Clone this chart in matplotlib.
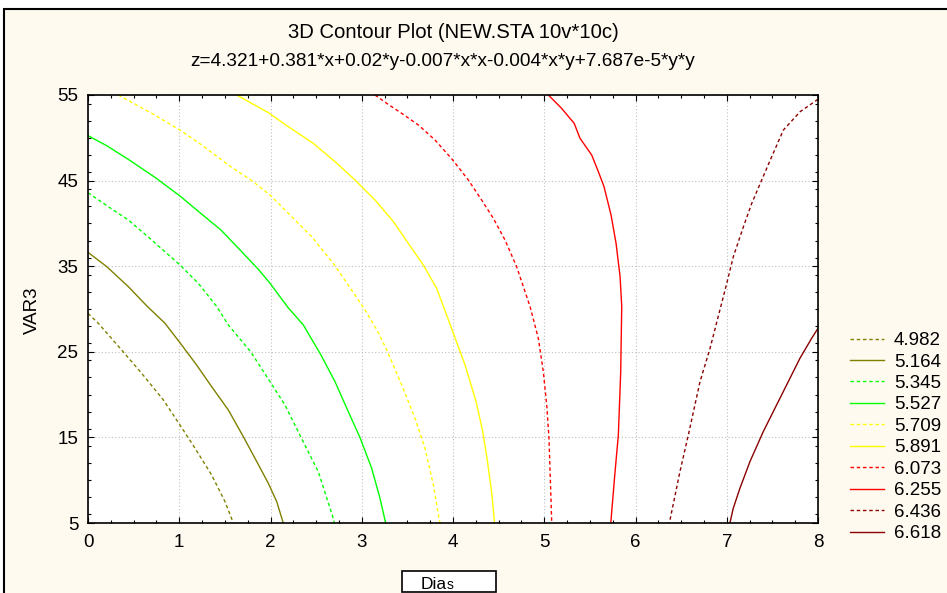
import matplotlib
matplotlib.use("Agg")
import matplotlib.pyplot as plt
from matplotlib.patches import Rectangle
from matplotlib.ticker import MultipleLocator

plt.rcParams['font.family'] = ['Liberation Sans', 'DejaVu Sans']

title1 = "3D Contour Plot (NEW.STA 10v*10c)"
title2 = "z=4.321+0.381*x+0.02*y-0.007*x*x-0.004*x*y+7.687e-5*y*y"
x_label = "Dias"
y_label = "VAR3"
levels = ["4.982", "5.164", "5.345", "5.527", "5.709", "5.891", "6.073", "6.255", "6.436", "6.618"]
x_ticks = [0, 1, 2, 3, 4, 5, 6, 7, 8]
y_ticks = [5, 15, 25, 35, 45, 55]

# contour 4.982
c4982_x = [0, 0.113, 0.369, 0.588, 0.826, 1.008, 1.173, 1.355, 1.501, 1.593]
c4982_y = [29.49, 28.33, 25.21, 22.49, 19.37, 16.45, 13.73, 10.61, 7.5, 5.0]
# contour 5.164
c5164_x = [0, 0.205, 0.442, 0.65, 0.844, 1.026, 1.19, 1.355, 1.538, 1.702, 1.83, 1.976, 2.068, 2.14]
c5164_y = [36.62, 34.95, 32.61, 30.3, 28.33, 25.8, 23.46, 20.93, 18.2, 15.09, 12.56, 9.64, 7.5, 5.0]
# contour 5.345
c5345_x = [0, 0.223, 0.442, 0.698, 1.008, 1.209, 1.41, 1.538, 1.783, 1.995, 2.159, 2.34, 2.524, 2.689, 2.7]
c5345_y = [43.59, 41.95, 40.4, 38.06, 35.14, 33.0, 30.3, 28.13, 25.0, 21.51, 18.78, 14.88, 10.99, 5.5, 5.0]
# contour 5.527
c5527_x = [0, 0.205, 0.442, 0.734, 1.008, 1.227, 1.457, 1.666, 1.867, 1.995, 2.19, 2.36, 2.553, 2.707, 2.853, 2.98, 3.109, 3.2, 3.262]
c5527_y = [50.25, 49.08, 47.48, 45.38, 43.2, 41.25, 39.23, 36.9, 34.63, 33.0, 30.2, 28.13, 24.63, 21.51, 18.0, 15.0, 11.39, 7.88, 5.0]
# contour 5.709
c5709_x = [0.332, 0.698, 1.008, 1.246, 1.538, 1.794, 1.995, 2.232, 2.451, 2.688, 2.889, 3.035, 3.164, 3.274, 3.438, 3.584, 3.693, 3.785, 3.85, 3.858]
c5709_y = [55.0, 52.86, 50.91, 49.16, 46.82, 45.0, 43.32, 40.79, 38.45, 35.33, 32.22, 29.9, 27.6, 25.21, 21.12, 17.22, 13.73, 9.44, 5.35, 5.0]
# contour 5.891
c5891_x = [1.629, 1.976, 2.195, 2.469, 2.707, 2.926, 3.146, 3.347, 3.51, 3.675, 3.821, 3.93, 4.132, 4.253, 4.326, 4.378, 4.425, 4.455]
c5891_y = [55.0, 52.94, 51.3, 49.35, 47.21, 45.07, 42.73, 40.2, 37.67, 35.14, 32.41, 29.3, 23.46, 19.18, 15.67, 12.17, 8.47, 5.0]
# contour 6.073
c6073_x = [3.145, 3.273, 3.437, 3.62, 3.803, 3.99, 4.168, 4.314, 4.442, 4.57, 4.697, 4.844, 4.935, 4.99, 5.027, 5.052, 5.07, 5.082]
c6073_y = [55.0, 54.03, 52.86, 51.5, 49.74, 47.5, 45.07, 42.73, 40.59, 38.06, 34.95, 30.3, 26.57, 22.68, 18.78, 14.88, 9.04, 5.0]
# contour 6.255
c6255_x = [5.045, 5.19, 5.328, 5.392, 5.52, 5.593, 5.655, 5.732, 5.787, 5.831, 5.849, 5.838, 5.812, 5.776, 5.729]
c6255_y = [55.0, 53.44, 51.69, 49.94, 47.99, 46.04, 44.29, 40.98, 37.67, 33.78, 30.3, 22.68, 15.28, 11.0, 5.0]
# contour 6.436
c6436_x = [8.0, 7.804, 7.621, 7.493, 7.383, 7.274, 7.183, 7.072, 7.0, 6.935, 6.817, 6.707, 6.579, 6.487, 6.378, 6.365]
c6436_y = [54.5, 53.05, 50.91, 47.8, 45.07, 42.34, 39.62, 36.11, 33.0, 30.3, 25.41, 21.51, 15.28, 11.0, 5.35, 5.0]
# contour 6.618
c6618_x = [8.0, 7.93, 7.802, 7.674, 7.528, 7.4, 7.254, 7.144, 7.071, 7.035]
c6618_y = [27.74, 26.57, 24.24, 21.51, 18.4, 15.67, 12.17, 9.04, 6.71, 5.0]

curves_x = [c4982_x, c5164_x, c5345_x, c5527_x, c5709_x, c5891_x, c6073_x, c6255_x, c6436_x, c6618_x]
curves_y = [c4982_y, c5164_y, c5345_y, c5527_y, c5709_y, c5891_y, c6073_y, c6255_y, c6436_y, c6618_y]
colors = ["#808000", "#808000", "#00FF00", "#00FF00", "#FFFF00", "#FFFF00",
          "#FF0000", "#FF0000", "#8B0000", "#8B0000"]
dashed = (0, (2.5, 2.0))
styles = [dashed, "-", dashed, "-", dashed, "-", dashed, "-", dashed, "-"]

W, H = 947, 593
fig = plt.figure(figsize=(W / 100, H / 100), dpi=100)
fig.patch.set_facecolor("white")
cream = "#FFFAF0"
fig.add_artist(Rectangle((4 / W, -0.1), 1.2, 1 - 9 / H + 0.1, transform=fig.transFigure,
                         facecolor=cream, edgecolor="black", lw=1.5, zorder=-10))

ax = fig.add_axes([88 / W, 1 - 523 / H, (818 - 88) / W, (523 - 95) / H])
ax.set_facecolor("white")

for xs, ys, col, ls, lab in zip(curves_x, curves_y, colors, styles, levels):
    ax.plot(xs, ys, color=col, linestyle=ls, lw=1.0, label=lab)

ax.set_xlim(0, 8)
ax.set_ylim(5, 55)
ax.set_xticks(x_ticks)
ax.set_yticks(y_ticks)
ax.xaxis.set_minor_locator(MultipleLocator(0.25))
ax.yaxis.set_minor_locator(MultipleLocator(2))
ax.tick_params(which="both", direction="in", top=True, right=True, labelsize=13.5, width=0.8)
ax.tick_params(which="major", length=4, pad=7)
ax.tick_params(axis="x", which="major", pad=8)
ax.tick_params(which="minor", length=2.5)
ax.grid(True, which="major", color="#C0C0C0", linestyle=(0, (1, 2)), lw=0.8)
for s in ax.spines.values():
    s.set_linewidth(1.2)
    s.set_color("black")

fig.text(453 / W, 1 - 33 / H, title1, ha="center", va="center", fontsize=14.6)
fig.text(443 / W, 1 - 62 / H, title2, ha="center", va="center", fontsize=13.7)
fig.text(32 / W, 1 - 310 / H, y_label, rotation=90, ha="center", va="center", fontsize=13.5)

fig.add_artist(Rectangle((402 / W, 1 / H), 94 / W, 21 / H, transform=fig.transFigure,
                         facecolor="white", edgecolor="black", lw=1.2, zorder=-5))
t = fig.text(421 / W, 1 - 592 / H, x_label[:-1], ha="left", va="bottom", fontsize=12.5)
ax.annotate(x_label[-1], xy=(1, 0), xycoords=t, ha="left", va="bottom", fontsize=10,
            annotation_clip=False)

leg = ax.legend(loc="upper left", bbox_to_anchor=(850 / W, 1 - 332 / H),
                bbox_transform=fig.transFigure, frameon=False, fontsize=13.5,
                handlelength=1.8, handletextpad=0.55, labelspacing=0.23,
                borderpad=0, borderaxespad=0)

fig.savefig("out.png", dpi=100, facecolor=fig.get_facecolor())
